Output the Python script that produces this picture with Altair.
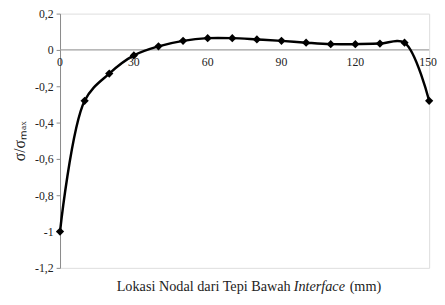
import altair as alt
import pandas as pd

x_nodes = [0, 10, 20, 30, 40, 50, 60, 70, 80, 90, 100, 110, 120, 130, 140, 150]
ratio = [-1.0, -0.28, -0.13, -0.03, 0.02, 0.05, 0.065, 0.065, 0.058, 0.05, 0.04, 0.032, 0.032, 0.035, 0.04, -0.28]
x_ticks = [0, 30, 60, 90, 120]
x_last = [150]
y_ticks = [0.2, 0, -0.2, -0.4, -0.6, -0.8, -1.0, -1.2]

FONT = "Liberation Serif"
GRAY = "#8a8a8a"
W, H = 376, 259

df = pd.DataFrame({"x": x_nodes, "y": ratio})
tick_df = pd.DataFrame({"x": x_ticks, "lbl": [str(v) for v in x_ticks]})
last_df = pd.DataFrame({"x": x_last, "lbl": [str(v) for v in x_last]})

xs = alt.Scale(domain=[0, 150], nice=False, zero=False)
ys = alt.Scale(domain=[-1.2, 0.2], nice=False, zero=False)

yax = alt.Axis(
    values=y_ticks,
    labelExpr="replace(toString(round(datum.value*10)/10), '.', ',')",
    labelOverlap=False,
    labelFlush=False,
    grid=False,
    domainColor=GRAY,
    tickColor=GRAY,
    tickSize=4,
    labelFont=FONT,
    labelFontSize=12,
    labelColor="#222222",
    labelPadding=3,
    title="σ/σₘₐₓ",
    titleFont=FONT,
    titleFontSize=16,
    titleFontWeight="normal",
    titleColor="#222222",
    titlePadding=7,
)

def X(field="x"):
    return alt.X(f"{field}:Q", scale=xs, axis=None)

def Y(field="y"):
    return alt.Y(f"{field}:Q", scale=ys, axis=yax)

base = alt.Chart(df)

line = base.mark_line(color="black", strokeWidth=2.5, interpolate="catmull-rom").encode(x=X(), y=Y())

pts = base.mark_point(shape="diamond", filled=True, color="black", size=70, opacity=1).encode(x=X(), y=Y())

zero = alt.Chart(pd.DataFrame({"y": [0]})).mark_rule(color="#a0a0a0", strokeWidth=1.2).encode(y=Y())

zdf = tick_df.assign(y=0)
ldf = last_df.assign(y=0)
xlabels = alt.Chart(zdf).mark_text(font=FONT, fontSize=12, color="#222222", baseline="top", dy=7).encode(
    x=X(), y=Y(), text="lbl:N"
)
xlabel_last = alt.Chart(ldf).mark_text(font=FONT, fontSize=12, color="#222222", baseline="top", dy=7, dx=-1).encode(
    x=X(), y=Y(), text="lbl:N"
)

def txt(s, xpix, align, style="normal", size=14.5):
    return alt.Chart(pd.DataFrame({"t": [s]})).mark_text(
        font=FONT, fontSize=size, color="#222222", align=align, baseline="alphabetic", fontStyle=style
    ).encode(x=alt.value(xpix), y=alt.value(H + 24), text="t:N")

t1 = txt("Lokasi Nodal dari Tepi Bawah", 235, "right")
t2 = txt("Interface", 238, "left", "italic", 14.5)
t3 = txt("(mm)", 295, "left")

chart = alt.layer(zero, line, pts, xlabels, xlabel_last, t1, t2, t3).properties(
    width=W,
    height=H,
    autosize=alt.AutoSizeParams(type="none"),
    padding={"left": 53, "top": 3, "right": 8, "bottom": 30},
).configure_view(stroke=GRAY, strokeWidth=1.2).configure(background="white")

chart.save("out.html", embed_options={"renderer": "svg", "actions": False})
